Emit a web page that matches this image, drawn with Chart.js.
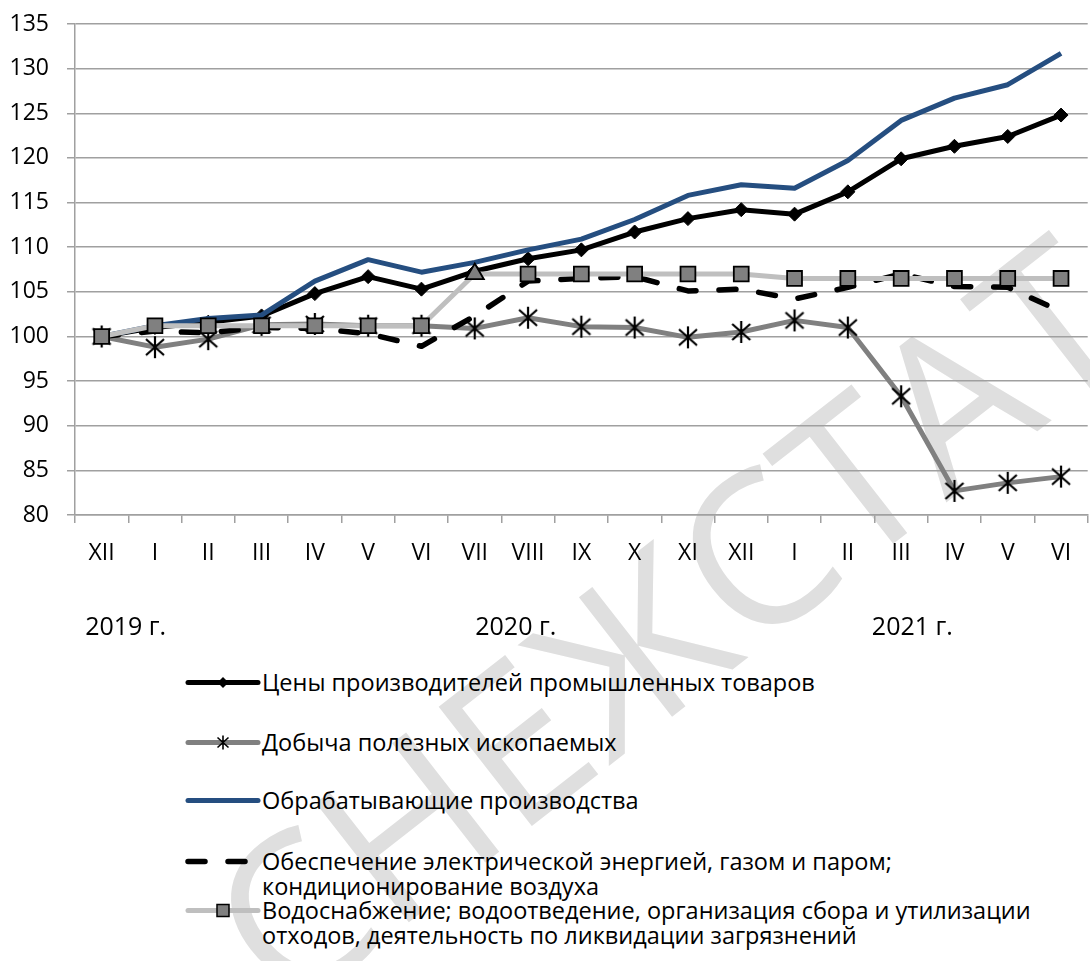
<!DOCTYPE html>
<html>
<head>
<meta charset="utf-8">
<script src="https://cdn.jsdelivr.net/npm/chart.js@4.4.1/dist/chart.umd.min.js"></script>
<style>
  body { margin: 0; background: #fff; overflow: hidden; width: 1090px; height: 961px; position: relative; font-family: 'Open Sans', sans-serif; }
  #mark { position: absolute; left: 665px; top: 618px; transform: translate(-50%, -50%) rotate(-38deg);
          font-size: 212px; color: #dfdfdf; white-space: nowrap; z-index: 0; line-height: 1; font-weight: 400; }
  #wrap { position: absolute; left: 0; top: 0; width: 1100px; height: 660px; z-index: 1; }
  .row { position: absolute; left: 185px; font-size: 23.5px; line-height: 25px; color: #000; z-index: 1; }
  .row svg { position: absolute; left: 0; top: 0; }
  .row span { display: block; margin-left: 77px; white-space: nowrap; }
</style>
</head>
<body>
<div id="mark">СНЕЖСТАТ</div>
<div id="wrap"><canvas id="myChart" width="1100" height="660"></canvas></div>

<div class="row" style="top:670px">
  <svg width="76" height="25"><line x1="3" y1="12.5" x2="73" y2="12.5" stroke="#000" stroke-width="5" stroke-linecap="round"/><path d="M38 7 L43.5 12.5 L38 18 L32.5 12.5 Z" fill="#000"/></svg>
  <span>Цены производителей промышленных товаров</span>
</div>
<div class="row" style="top:730px">
  <svg width="76" height="25"><line x1="3" y1="12.5" x2="73" y2="12.5" stroke="#808080" stroke-width="5" stroke-linecap="round"/><path d="M38 5.5 V19.5 M32.5 7.5 L43.5 17.5 M43.5 7.5 L32.5 17.5" stroke="#000" stroke-width="1.6"/></svg>
  <span>Добыча полезных ископаемых</span>
</div>
<div class="row" style="top:788px">
  <svg width="76" height="25"><line x1="3" y1="12.5" x2="73" y2="12.5" stroke="#254e80" stroke-width="5" stroke-linecap="round"/></svg>
  <span>Обрабатывающие производства</span>
</div>
<div class="row" style="top:849px">
  <svg width="76" height="25"><line x1="3" y1="12.5" x2="73" y2="12.5" stroke="#000" stroke-width="5.5" stroke-linecap="round" stroke-dasharray="17 23"/></svg>
  <span>Обеспечение электрической энергией, газом и паром;<br>кондиционирование воздуха</span>
</div>
<div class="row" style="top:898px">
  <svg width="76" height="25"><line x1="3" y1="12.5" x2="73" y2="12.5" stroke="#bfbfbf" stroke-width="5" stroke-linecap="round"/><rect x="32" y="6.5" width="12" height="12" fill="#808080" stroke="#000" stroke-width="1.5"/></svg>
  <span>Водоснабжение; водоотведение, организация сбора и утилизации<br>отходов, деятельность по ликвидации загрязнений</span>
</div>

<script>
// месяцы по оси X
const categories = ['XII', 'I', 'II', 'III', 'IV', 'V', 'VI', 'VII', 'VIII', 'IX', 'X', 'XI', 'XII', 'I', 'II', 'III', 'IV', 'V', 'VI'];
const years = ['2019 г.', '2020 г.', '2021 г.'];
const yTicks = [80, 85, 90, 95, 100, 105, 110, 115, 120, 125, 130, 135];

// индексы, декабрь 2019 = 100
const prices = [100, 101.0, 101.6, 102.3, 104.8, 106.7, 105.3, 107.3, 108.7, 109.7, 111.7, 113.2, 114.2, 113.7, 116.2, 119.9, 121.3, 122.4, 124.8];
const mining = [100, 98.8, 99.7, 101.3, 101.4, 101.2, 101.2, 100.9, 102.1, 101.1, 101.0, 99.9, 100.5, 101.8, 101.0, 93.3, 82.7, 83.6, 84.3];
const manufacturing = [100, 101.2, 102.0, 102.4, 106.2, 108.6, 107.2, 108.3, 109.7, 110.9, 113.1, 115.8, 117.0, 116.6, 119.7, 124.2, 126.7, 128.2, 131.7];
const energy = [100, 100.6, 100.4, 101.0, 100.9, 100.3, 98.9, 102.3, 106.2, 106.5, 106.7, 105.1, 105.3, 104.2, 105.5, 107.0, 105.6, 105.5, 102.8];
const water = [100, 101.2, 101.2, 101.2, 101.2, 101.2, 101.2, 107.0, 107.0, 107.0, 107.0, 107.0, 107.0, 106.5, 106.5, 106.5, 106.5, 106.5, 106.5];

// маркер-звездочка как в Excel
var star = document.createElement('canvas');
star.width = 22; star.height = 24;
var sc = star.getContext('2d');
sc.strokeStyle = '#000';
sc.lineWidth = 2.2;
sc.beginPath();
sc.moveTo(11, 1); sc.lineTo(11, 23);
sc.moveTo(2, 4); sc.lineTo(20, 20);
sc.moveTo(20, 4); sc.lineTo(2, 20);
sc.stroke();

// подписи годов под месяцами
const yearPlugin = {
    id: 'years',
    afterDraw(chart) {
        var x = chart.scales.x;
        var x0 = x.getPixelForTick(0);
        var step = x.getPixelForTick(1) - x0;
        var at = [0.45, 7.77, 15.21];
        var ctx = chart.ctx;
        ctx.save();
        ctx.font = "25px 'Open Sans'";
        ctx.fillStyle = '#000';
        ctx.textAlign = 'center';
        ctx.textBaseline = 'middle';
        years.forEach(function(t, i) {
            ctx.fillText(t, x0 + at[i] * step, 628);
        });
        ctx.restore();
    }
};

var waterStyles = water.map(function(v, i) { return i == 7 ? 'triangle' : 'rect'; });

var ctx = document.getElementById('myChart').getContext('2d');
var myChart = new Chart(ctx, {
    type: 'line',
    data: {
        labels: categories,
        datasets: [{
            label: 'Цены производителей промышленных товаров',
            data: prices,
            borderColor: '#000',
            backgroundColor: '#000',
            borderWidth: 5,
            pointStyle: 'rectRot',
            pointRadius: 7,
            pointBorderWidth: 1,
            order: 5
        }, {
            label: 'Добыча полезных ископаемых',
            data: mining,
            borderColor: '#808080',
            borderWidth: 5,
            pointStyle: star,
            order: 4
        }, {
            label: 'Обрабатывающие производства',
            data: manufacturing,
            borderColor: '#254e80',
            borderWidth: 5,
            pointRadius: 0,
            order: 3
        }, {
            label: 'Обеспечение электрической энергией, газом и паром; кондиционирование воздуха',
            data: energy,
            borderColor: '#000',
            borderWidth: 5.5,
            borderDash: [17, 23],
            borderCapStyle: 'round',
            pointRadius: 0,
            order: 2
        }, {
            label: 'Водоснабжение; водоотведение, организация сбора и утилизации отходов, деятельность по ликвидации загрязнений',
            data: water,
            borderColor: '#bfbfbf',
            backgroundColor: '#808080',
            borderWidth: 5,
            pointStyle: waterStyles,
            pointRadius: 10.5,
            pointBorderColor: '#000',
            pointBorderWidth: 1.8,
            order: 1
        }]
    },
    options: {
        responsive: false,
        animation: false,
        devicePixelRatio: 1,
        layout: { padding: { top: 24, right: 1, left: 0, bottom: 0 } },
        elements: { line: { tension: 0, borderJoinStyle: 'round' } },
        plugins: { legend: { display: false }, tooltip: { enabled: false } },
        scales: {
            x: {
                offset: true,
                grid: { offset: true, drawOnChartArea: false, tickLength: 8, color: '#a0a0a0', lineWidth: 1.5 },
                border: { color: '#a0a0a0', width: 1.5 },
                ticks: { autoSkip: false, maxRotation: 0, padding: 17, color: '#000', font: { family: 'Open Sans', size: 23 } },
                afterFit: function(s) { s.height = 145; s.paddingLeft = 0; s.paddingRight = 0; }
            },
            y: {
                min: 80,
                max: 135,
                afterBuildTicks: function(s) { s.ticks = yTicks.map(function(v) { return { value: v }; }); },
                grid: { tickLength: 8, color: '#a0a0a0', lineWidth: 1.5 },
                border: { color: '#a0a0a0', width: 1.5 },
                ticks: { padding: 18, color: '#000', font: { family: 'Open Sans', size: 23 } },
                afterFit: function(s) { s.width = 75; s.paddingTop = 0; s.paddingBottom = 0; }
            }
        }
    },
    plugins: [yearPlugin]
});
</script>
</body>
</html>
